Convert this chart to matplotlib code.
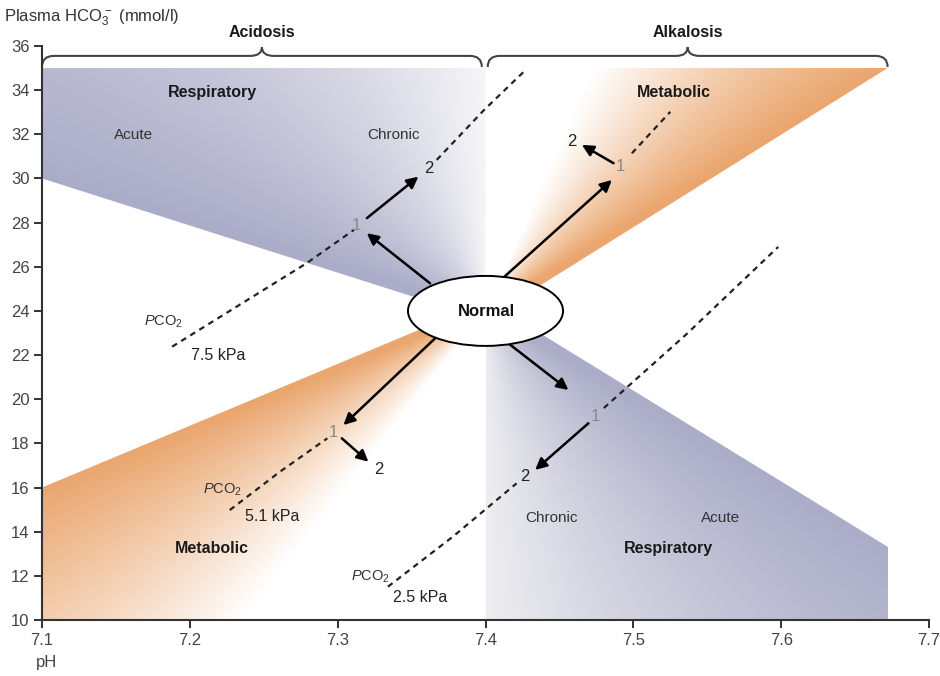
import numpy as np
import matplotlib
matplotlib.use("Agg")
import matplotlib.pyplot as plt
from matplotlib import font_manager
from matplotlib.patches import Polygon, Ellipse, PathPatch
from matplotlib.path import Path
from matplotlib.colors import to_rgb

# axis ticks
ph_ticks = [7.1, 7.2, 7.3, 7.4, 7.5, 7.6, 7.7]
hco3_ticks = list(range(10, 37, 2))

# normal point (pH, HCO3)
normal_pt = (7.4, 24.0)

# shaded zones (pH, HCO3)
resp_acid_zone = [(7.4, 23.6), (7.1, 30.0), (7.1, 35.0), (7.4, 35.0)]
met_alk_zone = [(7.4, 23.6), (7.473, 35.0), (7.672, 35.0)]
met_acid_zone = [(7.4, 24.4), (7.1, 16.0), (7.1, 10.0), (7.234, 10.0), (7.4, 23.4)]
resp_alk_zone = [(7.4, 24.5), (7.4, 10.0), (7.672, 10.0), (7.672, 13.3)]

# PCO2 isobars (segments)
pco2_75_a = ([7.188, 7.279, 7.311], [22.38, 26.16, 27.67])
pco2_75_b = ([7.367, 7.399, 7.426], [30.84, 33.10, 34.84])
pco2_51_a = ([7.227, 7.261, 7.293], [14.98, 16.72, 18.23])
pco2_51_b = ([7.499, 7.525], [31.14, 33.02])
pco2_25_a = ([7.334, 7.378, 7.421], [11.51, 13.78, 16.19])
pco2_25_b = ([7.480, 7.536, 7.598], [19.60, 22.95, 26.90])

# compensation arrows: (start, end)
arrows = [
    ((7.3625, 25.25), (7.3197, 27.52)),
    ((7.3197, 28.20), (7.3546, 30.08)),
    ((7.4126, 25.54), (7.4855, 29.93)),
    ((7.4866, 30.69), (7.4652, 31.52)),
    ((7.3659, 22.76), (7.3039, 18.83)),
    ((7.3028, 18.23), (7.3208, 17.17)),
    ((7.4155, 22.53), (7.4561, 20.42)),
    ((7.4696, 18.91), (7.4336, 16.80)),
]
step_labels = [
    ("1", 7.3129, 27.89), ("2", 7.3614, 30.46),
    ("1", 7.4915, 30.53), ("2", 7.4584, 31.67),
    ("1", 7.2971, 18.49), ("2", 7.3276, 16.80),
    ("1", 7.4742, 19.21), ("2", 7.4268, 16.49),
]

names = {f.name for f in font_manager.fontManager.ttflist}
narrow = "Liberation Sans Narrow" if "Liberation Sans Narrow" in names else "Liberation Sans"
plt.rcParams["font.family"] = ["Liberation Sans", "DejaVu Sans"]
plt.rcParams["mathtext.fontset"] = "custom"
plt.rcParams["mathtext.rm"] = narrow
plt.rcParams["mathtext.it"] = narrow + ":italic"

BLUE = "#ABADC8"
ORANGE = "#EAA66E"

fig = plt.figure(figsize=(9.4, 6.76), dpi=100)
ax = fig.add_axes([0.0447, 0.0828, 0.9436, 0.8492])
ax.set_xlim(7.1, 7.7)
ax.set_ylim(10, 36)


def shade(zone, strong, weak, color, base="#FFFFFF", gamma=1.0):
    tr = ax.transData
    xs = np.linspace(7.1, 7.7, 600)
    ys = np.linspace(10, 36, 520)
    X, Y = np.meshgrid(xs, ys)
    P = tr.transform(np.column_stack([X.ravel(), Y.ravel()]))
    a = tr.transform(normal_pt)
    s = tr.transform(strong)
    w = tr.transform(weak)
    ang = np.arctan2(P[:, 1] - a[1], P[:, 0] - a[0])
    a_s = np.arctan2(s[1] - a[1], s[0] - a[0])
    a_w = np.arctan2(w[1] - a[1], w[0] - a[0])
    rel = (ang - a_s + np.pi) % (2 * np.pi) - np.pi
    tot = (a_w - a_s + np.pi) % (2 * np.pi) - np.pi
    t = np.clip(1 - rel / tot, 0, 1) ** gamma
    c = np.array(to_rgb(color))
    b = np.array(to_rgb(base))
    img = b + (c - b) * t[:, None]
    img = img.reshape(len(ys), len(xs), 3)
    im = ax.imshow(img, extent=(7.1, 7.7, 10, 36), origin="lower",
                   aspect="auto", interpolation="bilinear", zorder=1)
    poly = Polygon(zone, closed=True, transform=ax.transData)
    im.set_clip_path(poly)


shade(resp_acid_zone, (7.1, 30.0), (7.4, 35.0), BLUE, "#F6F5F8", 1.0)
shade(met_alk_zone, (7.672, 35.0), (7.473, 35.0), ORANGE, "#FFFFFF", 1.1)
shade(met_acid_zone, (7.1, 16.0), (7.234, 10.0), ORANGE, "#FFFFFF", 1.0)
shade(resp_alk_zone, (7.672, 13.3), (7.4, 10.0), BLUE, "#EEEEF1", 1.0)

ax.set_xlim(7.1, 7.7)
ax.set_ylim(10, 36)

# isobars
for seg in [pco2_75_a, pco2_75_b, pco2_51_a, pco2_51_b, pco2_25_a, pco2_25_b]:
    ax.plot(seg[0], seg[1], color="#222222", lw=1.6, dashes=(2.6, 2.2), zorder=3)

# arrows
for start, end in arrows:
    ax.annotate("", xy=end, xytext=start,
                arrowprops=dict(arrowstyle="-|>", color="black", lw=1.8,
                                mutation_scale=17, shrinkA=0, shrinkB=0),
                zorder=4)
for txt, x, y in step_labels:
    ax.text(x, y, txt, ha="center", va="center", fontsize=12,
            color="#888888" if txt == "1" else "#222222", family=narrow, zorder=5)

# normal ellipse
ax.add_patch(Ellipse(normal_pt, 0.1049, 3.17, facecolor="white",
                     edgecolor="black", lw=1.4, zorder=6))
ax.text(7.4005, 23.97, "Normal", ha="center", va="center", fontsize=12,
        fontweight="bold", color="#111111", zorder=7)

# zone labels
bold_labels = [("Respiratory", 7.215, 33.87), ("Metabolic", 7.5276, 33.87),
               ("Metabolic", 7.215, 13.26), ("Respiratory", 7.5235, 13.26)]
for txt, x, y in bold_labels:
    ax.text(x, y, txt, ha="center", va="center", fontsize=11.5,
            fontweight="bold", color="#1a1a1a", zorder=5)
plain_labels = [("Acute", 7.1622, 31.97), ("Chronic", 7.3375, 31.97),
                ("Chronic", 7.4444, 14.62), ("Acute", 7.5587, 14.62)]
for txt, x, y in plain_labels:
    ax.text(x, y, txt, ha="center", va="center", fontsize=11,
            color="#333333", family=narrow, zorder=5)

pco2_labels = [(7.1825, 23.5, 7.2191, 21.96, "7.5 kPa"),
               (7.2218, 15.89, 7.2556, 14.67, "5.1 kPa"),
               (7.3219, 11.95, 7.3558, 11.0, "2.5 kPa")]
for px, py, kx, ky, kpa in pco2_labels:
    ax.text(px, py, r"$\mathit{P}$CO$_2$", ha="center", va="center",
            fontsize=10.5, color="#333333", family=narrow, zorder=5)
    ax.text(kx, ky, kpa, ha="center", va="center", fontsize=11.5,
            color="#222222", family=narrow, zorder=5)


# braces
def brace(x0, x1, y, h=0.5, up=0.4, r=0.008):
    xm = (x0 + x1) / 2
    verts = [(x0, y - h), (x0, y), (x0 + r, y),
             (xm - r, y), (xm, y), (xm, y + up),
             (xm, y), (xm + r, y),
             (x1 - r, y), (x1, y), (x1, y - h)]
    codes = [Path.MOVETO, Path.CURVE3, Path.CURVE3,
             Path.LINETO, Path.CURVE3, Path.CURVE3,
             Path.CURVE3, Path.CURVE3,
             Path.LINETO, Path.CURVE3, Path.CURVE3]
    ax.add_patch(PathPatch(Path(verts, codes), facecolor="none",
                           edgecolor="#444444", lw=1.5, clip_on=False, zorder=5))
    return xm


xa = brace(7.1, 7.3975, 35.55)
xb = brace(7.4015, 7.672, 35.55)
ax.text(xa, 36.6, "Acidosis", ha="center", va="center", fontsize=11.5,
        fontweight="bold", color="#1a1a1a", clip_on=False)
ax.text(xb, 36.6, "Alkalosis", ha="center", va="center", fontsize=11.5,
        fontweight="bold", color="#1a1a1a", clip_on=False)

# axes styling
for side in ["top", "right"]:
    ax.spines[side].set_visible(False)
for side in ["left", "bottom"]:
    ax.spines[side].set_color("#333333")
    ax.spines[side].set_linewidth(1.5)
    ax.spines[side].set_zorder(8)
ax.set_xticks(ph_ticks)
ax.set_xticklabels([f"{v:.1f}" for v in ph_ticks])
ax.set_yticks(hco3_ticks)
ax.tick_params(direction="out", length=6, width=1.4, color="#333333",
               labelsize=12, labelcolor="#444444", pad=3)
for lab in ax.get_xticklabels() + ax.get_yticklabels():
    lab.set_family(narrow)

fig.text(0.004, 1 - 18 / 676, r"Plasma HCO$_3^{\,-}$ (mmol/l)", ha="left",
         va="center", fontsize=12, color="#333333", family=narrow)
fig.text(0.038, 1 - 662 / 676, "pH", ha="left", va="center", fontsize=12,
         color="#444444", family=narrow)

fig.savefig("out.png", dpi=100)
